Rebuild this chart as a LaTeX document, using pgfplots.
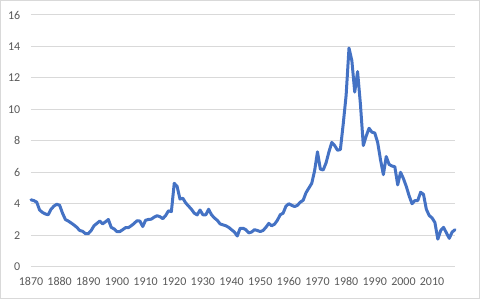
\documentclass[border=0pt]{standalone}
\usepackage{fontspec}
\setmainfont{Carlito}
\usepackage{pgfplots}
\pgfplotsset{compat=1.18}
\definecolor{linecol}{HTML}{4472C4}
\definecolor{gridcol}{HTML}{D9D9D9}
\definecolor{txtcol}{HTML}{595959}
\begin{document}
\begin{tikzpicture}
\useasboundingbox (0,0) rectangle (360pt,224.25pt);
\draw[gridcol,line width=0.75pt] (0.375pt,0.375pt) rectangle (359.625pt,223.875pt);
\begin{axis}[
  at={(23.25pt,24.25pt)}, anchor=south west,
  scale only axis, width=318pt, height=188.75pt,
  xmin=1870, xmax=2018, ymin=0, ymax=16,
  xtick={1870,1880,...,2010}, ytick={0,2,...,16},
  ymajorgrids, grid style={gridcol, line width=0.75pt},
  axis line style={draw=none},
  major tick length=0pt,
  tick label style={font=\fontsize{9}{10}\selectfont, text=txtcol},
  /pgf/number format/assume math mode=true,
  /pgf/number format/1000 sep={},
  yticklabel style={xshift=-4.5pt},
  xticklabel style={yshift=-4.5pt},
  clip=false,
]
\addplot[linecol, line width=2.25pt, line join=round, line cap=round] coordinates {
(1870,4.25)(1871,4.2)(1872,4.1)(1873,3.6)(1874,3.45)(1875,3.35)(1876,3.3)(1877,3.65)(1878,3.85)(1879,3.97)
(1880,3.9)(1881,3.4)(1882,3.0)(1883,2.9)(1884,2.78)(1885,2.65)(1886,2.5)(1887,2.3)(1888,2.25)(1889,2.1)
(1890,2.1)(1891,2.3)(1892,2.6)(1893,2.75)(1894,2.9)(1895,2.72)(1896,2.85)(1897,3.0)(1898,2.5)(1899,2.4)
(1900,2.23)(1901,2.23)(1902,2.35)(1903,2.48)(1904,2.48)(1905,2.6)(1906,2.75)(1907,2.92)(1908,2.9)(1909,2.55)
(1910,2.95)(1911,3.0)(1912,3.02)(1913,3.15)(1914,3.24)(1915,3.18)(1916,3.05)(1917,3.25)(1918,3.55)(1919,3.5)
(1920,5.3)(1921,5.1)(1922,4.3)(1923,4.35)(1924,4.05)(1925,3.85)(1926,3.65)(1927,3.4)(1928,3.29)(1929,3.6)
(1930,3.3)(1931,3.29)(1932,3.65)(1933,3.3)(1934,3.1)(1935,2.95)(1936,2.72)(1937,2.66)(1938,2.6)(1939,2.5)
(1940,2.35)(1941,2.2)(1942,1.95)(1943,2.44)(1944,2.44)(1945,2.35)(1946,2.15)(1947,2.2)(1948,2.35)(1949,2.3)
(1950,2.23)(1951,2.3)(1952,2.5)(1953,2.75)(1954,2.6)(1955,2.7)(1956,2.95)(1957,3.3)(1958,3.4)(1959,3.85)
(1960,4.0)(1961,3.9)(1962,3.82)(1963,3.9)(1964,4.1)(1965,4.22)(1966,4.7)(1967,5.0)(1968,5.3)(1969,6.1)
(1970,7.3)(1971,6.2)(1972,6.15)(1973,6.6)(1974,7.3)(1975,7.9)(1976,7.7)(1977,7.4)(1978,7.45)(1979,9.1)
(1980,10.9)(1981,13.9)(1982,13.1)(1983,11.1)(1984,12.4)(1985,10.3)(1986,7.7)(1987,8.3)(1988,8.8)(1989,8.55)
(1990,8.5)(1991,7.9)(1992,6.8)(1993,5.85)(1994,7.0)(1995,6.5)(1996,6.4)(1997,6.35)(1998,5.2)(1999,6.0)
(2000,5.6)(2001,5.1)(2002,4.5)(2003,4.0)(2004,4.2)(2005,4.2)(2006,4.73)(2007,4.6)(2008,3.65)(2009,3.25)
(2010,3.1)(2011,2.8)(2012,1.75)(2013,2.3)(2014,2.5)(2015,2.15)(2016,1.8)(2017,2.2)(2018,2.35)
};
\end{axis}
\end{tikzpicture}
\end{document}
